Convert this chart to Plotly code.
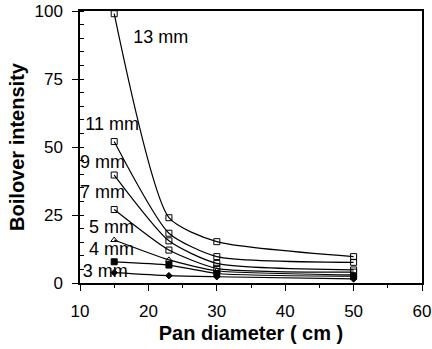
import plotly.graph_objects as go

x_diam = [15, 23, 30, 50]
labels = ["13 mm", "11 mm", "9 mm", "7 mm", "5 mm", "4 mm", "3 mm"]
y_13 = [99, 24, 15.2, 9.7]
y_11 = [52, 18.3, 9.7, 7.6]
y_9 = [39.7, 15.5, 7.2, 4.8]
y_7 = [27, 12.1, 5.4, 4.0]
y_5 = [15.8, 8.5, 4.5, 3.0]
y_4 = [7.8, 6.6, 3.5, 2.5]
y_3 = [3.8, 2.7, 2.3, 1.5]
series = [y_13, y_11, y_9, y_7, y_5, y_4, y_3]
symbols = ["square-open", "square-open", "square-open", "square-open",
           "triangle-up-open", "square", "diamond"]
msizes = [6, 6, 6, 6, 6, 6, 5]
label_x = [21.8, 14.7, 13.3, 13.3, 14.6, 14.6, 13.7]
label_y = [90, 58, 44, 33, 20, 12, 4]

fig = go.Figure()
for ys, sym, ms in zip(series, symbols, msizes):
    fig.add_trace(go.Scatter(
        x=x_diam, y=ys, mode="lines+markers",
        line=dict(color="black", width=1.2, shape="spline", smoothing=0.6),
        marker=dict(symbol=sym, size=ms, color="black",
                    line=dict(color="black", width=1)),
        showlegend=False, cliponaxis=False))

fig.add_trace(go.Scatter(
    x=label_x, y=label_y, mode="text", text=labels,
    textfont=dict(family="Liberation Sans, Arial", size=18, color="black"),
    showlegend=False))

fig.update_layout(
    width=432, height=349,
    margin=dict(l=80, r=10, t=11, b=66),
    paper_bgcolor="white", plot_bgcolor="white",
    font=dict(family="Liberation Sans, Arial", size=17, color="black"),
)
fig.update_xaxes(
    range=[10, 60], tickvals=[10, 20, 30, 40, 50, 60],
    ticks="outside", ticklen=6, tickwidth=1, tickcolor="black",
    ticklabelstandoff=6, automargin=False,
    minor=dict(dtick=5, ticks="outside", ticklen=3, tickcolor="black"),
    showline=True, linecolor="black", linewidth=1.5, mirror=True,
    showgrid=False, zeroline=False,
    title=dict(text="<b>Pan diameter ( cm )</b>", font=dict(size=20), standoff=6),
)
fig.update_yaxes(
    range=[0, 100], tickvals=[0, 25, 50, 75, 100],
    ticks="outside", ticklen=6, tickwidth=1, tickcolor="black",
    ticklabelstandoff=6, automargin=False,
    minor=dict(dtick=5, ticks="inside", ticklen=4, tickcolor="black"),
    showline=True, linecolor="black", linewidth=1.5, mirror=True,
    showgrid=False, zeroline=False,
    title=dict(text="<b>Boilover intensity</b>", font=dict(size=20), standoff=4),
)

fig.write_html("out.html")
